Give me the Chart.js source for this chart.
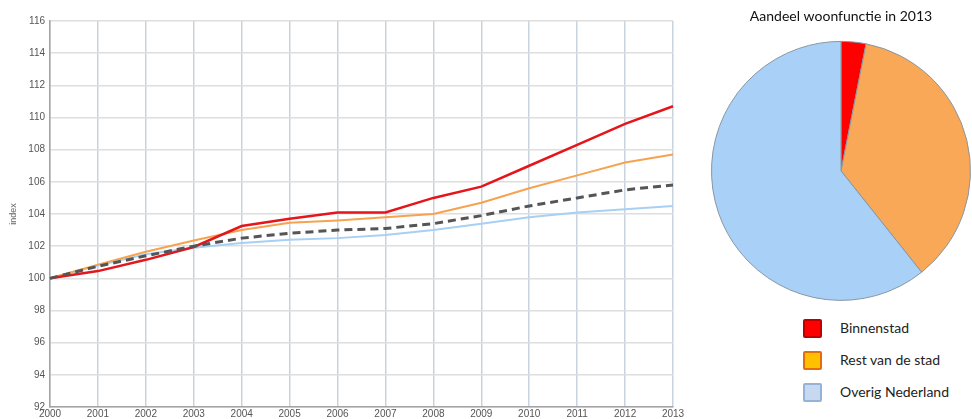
<!DOCTYPE html>
<html>
<head>
<meta charset="utf-8">
<script src="https://cdn.jsdelivr.net/npm/chart.js@4/dist/chart.umd.min.js"></script>
<style>
  body { margin: 0; background: #fff; width: 972px; height: 419px; overflow: hidden; position: relative; }
  #lineCanvas { position: absolute; left: 0; top: 0; }
  #pieCanvas { position: absolute; left: 711px; top: 0; }
  #pieLegend { position: absolute; left: 803px; top: 319px; width: 169px; font-family: Lato, "Noto Sans", sans-serif; font-size: 14px; color: #222; }
  .item { position: relative; height: 32px; white-space: nowrap; }
  .box { position: absolute; left: 0; top: 0; width: 15px; height: 15px; border: 2px solid; border-radius: 2px; }
  .lbl { position: absolute; left: 37px; top: 0; line-height: 18px; }
</style>
</head>
<body>
<canvas id="lineCanvas" width="690" height="419"></canvas>
<canvas id="pieCanvas" width="260" height="301"></canvas>
<div id="pieLegend"></div>
<script>
// jaren en indexreeksen (2000 = 100)
const years = ["2000", "2001", "2002", "2003", "2004", "2005", "2006", "2007", "2008", "2009", "2010", "2011", "2012", "2013"];
const binnenstad = [100, 100.45, 101.15, 101.95, 103.25, 103.7, 104.1, 104.1, 105.0, 105.7, 107.0, 108.3, 109.6, 110.7];
const restStad = [100, 100.85, 101.65, 102.35, 103.0, 103.45, 103.6, 103.8, 104.0, 104.7, 105.6, 106.4, 107.2, 107.7];
const gemiddeld = [100, 100.75, 101.4, 102.0, 102.5, 102.8, 103.0, 103.1, 103.4, 103.9, 104.5, 105.0, 105.5, 105.8];
const overigNL = [100, 100.8, 101.5, 101.9, 102.2, 102.4, 102.5, 102.7, 103.0, 103.4, 103.8, 104.1, 104.3, 104.5];

// aandeel woonfunctie 2013 (%)
const pieLabels = ["Binnenstad", "Rest van de stad", "Overig Nederland"];
const pieValues = [3.1, 36.2, 60.7];
const pieColors = ["#ff0000", "#f8a857", "#a9d1f7"];
const legendFill = ["#ff0000", "#ffc000", "#c6d9f1"];
const legendBorder = ["#c00000", "#e46c0a", "#95b3d7"];

const tickFont = { family: "'Liberation Sans', Arial, sans-serif", size: 10 };

new Chart(document.getElementById("lineCanvas"), {
  type: "line",
  data: {
    labels: years,
    datasets: [
      { label: "Binnenstad", data: binnenstad, borderColor: "#e4161b", borderWidth: 2.5, order: 2 },
      { label: "Rest van de stad", data: restStad, borderColor: "#f6a24f", borderWidth: 2, order: 3 },
      { label: "Gemiddeld", data: gemiddeld, borderColor: "#555555", borderWidth: 3, borderDash: [8, 5], order: 1 },
      { label: "Overig Nederland", data: overigNL, borderColor: "#a8cff4", borderWidth: 2, order: 4 },
    ],
  },
  options: {
    responsive: false,
    animation: false,
    elements: { point: { radius: 0 }, line: { tension: 0 } },
    layout: { padding: { top: 21, right: 17, left: 0, bottom: 0 } },
    plugins: { legend: { display: false }, tooltip: { enabled: false } },
    scales: {
      x: {
        grid: { color: "#c9d3de", lineWidth: 1.5, drawTicks: false },
        border: { color: "#a3a3a3", width: 1.5 },
        ticks: { color: "#555", font: tickFont, padding: 1, maxRotation: 0, autoSkip: false },
        afterFit: (s) => { s.height = 12; },
      },
      y: {
        min: 92,
        max: 116,
        grid: { color: "#dedede", lineWidth: 1.5, drawTicks: false },
        border: { color: "#a3a3a3", width: 1.5 },
        ticks: { stepSize: 2, color: "#555", font: tickFont, padding: 5 },
        title: { display: true, text: "index", color: "#666", font: { family: "'Liberation Sans', Arial, sans-serif", size: 9 }, padding: { top: 8, bottom: 0 } },
        afterFit: (s) => { s.width = 50; },
      },
    },
  },
});

new Chart(document.getElementById("pieCanvas"), {
  type: "pie",
  data: {
    labels: pieLabels,
    datasets: [{ data: pieValues, backgroundColor: pieColors, borderColor: "#8796a3", borderWidth: 1 }],
  },
  options: {
    responsive: false,
    animation: false,
    plugins: {
      legend: { display: false },
      tooltip: { enabled: false },
      title: {
        display: true,
        text: "Aandeel woonfunctie in 2013",
        color: "#111",
        font: { family: "Lato, 'Noto Sans', sans-serif", size: 14, weight: "normal" },
        padding: { top: 8, bottom: 16 },
      },
    },
  },
});

// legenda van de taartgrafiek
const legend = document.getElementById("pieLegend");
pieLabels.forEach((name, i) => {
  const item = document.createElement("div");
  item.className = "item";
  const box = document.createElement("span");
  box.className = "box";
  box.style.background = legendFill[i];
  box.style.borderColor = legendBorder[i];
  const lbl = document.createElement("span");
  lbl.className = "lbl";
  lbl.textContent = name;
  item.appendChild(box);
  item.appendChild(lbl);
  legend.appendChild(item);
});
</script>
</body>
</html>
